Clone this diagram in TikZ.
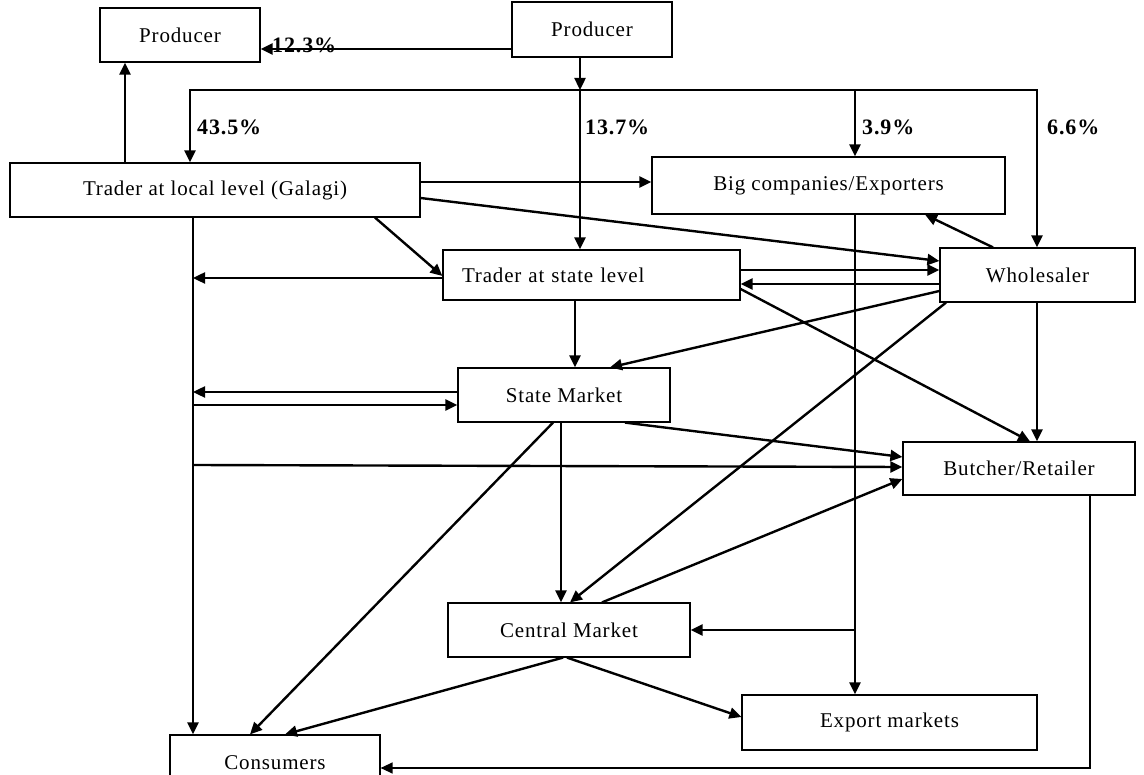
\documentclass[tikz,border=0pt]{standalone}
\usepackage{fontspec}
\setmainfont{Liberation Serif}[LetterSpace=4]
\usetikzlibrary{arrows.meta}
\begin{document}
\begin{tikzpicture}[x=1pt,y=-1pt,
  box/.style={draw,line width=1.2pt,inner sep=0pt,font=\fontsize{21}{24}\selectfont},
  arr/.style={line width=2.4pt,-{Triangle[length=12pt,width=11pt]}},
  thinarr/.style={line width=1.3pt,-{Triangle[length=12pt,width=11pt]}},
  pct/.style={font=\bfseries\fontsize{22}{24}\selectfont,inner sep=0pt,anchor=west}]
\useasboundingbox (0,0) rectangle (1144,775);
\fill[white] (0,0) rectangle (1144,775);
% boxes
\node[box,minimum width=160pt,minimum height=54pt] (pL) at (180,35) {Producer};
\node[box,minimum width=160pt,minimum height=55pt] (pR) at (592,29.5) {Producer};
\node[box,minimum width=410pt,minimum height=54pt] (tl) at (215,190) {Trader at local level (Galagi)};
\node[box,minimum width=353pt,minimum height=57pt] (big) at (828.5,185.5) {Big companies/Exporters};
\node[box,minimum width=297pt,minimum height=50pt,text width=259pt,inner xsep=19pt,align=left] (ts) at (591.5,275) {Trader at state level};
\node[box,minimum width=195pt,minimum height=54pt] (wh) at (1037.5,275) {Wholesaler};
\node[box,minimum width=212pt,minimum height=54pt] (sm) at (564,395) {State Market};
\node[box,minimum width=232pt,minimum height=53pt] (br) at (1019,468.5) {Butcher/Retailer};
\node[box,minimum width=242pt,minimum height=54pt] (cm) at (569,630) {Central Market};
\node[box,minimum width=295pt,minimum height=55pt] (ex) at (889.5,722.5) {Export markets};
\node[box,minimum width=210pt,minimum height=55pt] (co) at (275,762.5) {Consumers};
% distribution coordinates
\coordinate (dl) at (190,90);
\coordinate (dm) at (580,90);
\coordinate (db) at (855,90);
\coordinate (dr) at (1037,90);
\coordinate (lv) at (193,0);
% percentage labels
\node[pct] (l123) at (272,45) {12.3\%};
\node[pct] (l435) at (197,127) {43.5\%};
\node[pct] (l137) at (585,127) {13.7\%};
\node[pct] (l39) at (862,127) {3.9\%};
\node[pct] (l66) at (1047,127) {6.6\%};
% producer connections
\draw[arr] (pR.west |- 0,49) -- (pL.east |- 0,49);
\draw[arr] (pR.south -| dm) -- (dm);
\draw[arr] (dm) -| (tl.north -| dl);
\draw[arr] (dm) -| (wh.north -| dr);
\draw[arr] (dm) -- (ts.north -| dm);
\draw[arr] (db) -- (big.north -| db);
\draw[arr] (tl.north -| 125,0) -- (pL.south -| 125,0);
% trader local
\draw[arr] (tl.east |- 0,182) -- (big.west |- 0,182);
\draw[arr] (tl.east |- 0,198) -- (wh.west |- 0,261);
\draw[arr] (tl.south -| 375,0) -- (ts.west |- 0,276);
\draw[arr] (tl.south -| lv) -- (co.north -| lv);
% trader state
\draw[arr] (ts.west |- 0,278) -- (lv |- 0,278);
\draw[arr] (ts.east |- 0,270) -- (wh.west |- 0,270);
\draw[arr] (wh.west |- 0,284) -- (ts.east |- 0,284);
\draw[arr] (ts.south -| 575,0) -- (sm.north -| 575,0);
\draw[arr] (ts.east |- 0,289) -- (br.north -| 1030,0);
% wholesaler
\draw[arr] (wh.west |- 0,291) -- (sm.north -| 610,0);
\draw[arr] (wh.north -| 993,0) -- (big.south -| 925,0);
\draw[arr] (wh.south -| dr) -- (br.north -| dr);
\draw[arr] (wh.south -| 946,0) -- (cm.north -| 570,0);
% state market
\draw[arr] (sm.west |- 0,392) -- (lv |- 0,392);
\draw[arr] (lv |- 0,405) -- (sm.west |- 0,405);
\draw[arr] (sm.south -| 561,0) -- (cm.north -| 561,0);
\draw[arr] (sm.south -| 625,0) -- (br.west |- 0,457);
\draw[arr] (sm.south -| 553,0) -- (co.north -| 250,0);
\draw[arr] (lv |- 0,465) -- (br.west |- 0,467);
% central market
\draw[arr] (cm.north -| 602,0) -- (br.west |- 0,479);
\draw[arr] (big.south -| db) -- (ex.north -| db);
\draw[arr] (db |- 0,630) -- (cm.east |- 0,630);
\draw[arr] (cm.south -| 563,0) -- (co.north -| 285,0);
\draw[arr] (cm.south -| 567,0) -- (ex.west |- 0,717);
% butcher to consumers
\draw[thinarr] (br.south -| 1090,0) |- (co.east |- 0,768);
\end{tikzpicture}
\end{document}
